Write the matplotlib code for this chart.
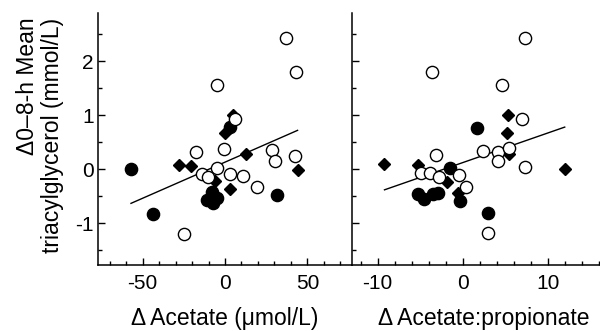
import numpy as np
import matplotlib.pyplot as plt
from matplotlib.ticker import MultipleLocator

plt.rcParams['font.family'] = ['Liberation Sans', 'DejaVu Sans']
plt.rcParams['axes.unicode_minus'] = False

# =========================
# Data
# =========================
# left panel: delta acetate (umol/L) vs delta mean TG (mmol/L)
ac_open_x = [37, 43, -4.6, 6.2, -17.6, -0.6, 28.6, 30.6, 42.4, -5, -14, -10.6, 3, 11, 19.6, -25]
ac_open_y = [2.42, 1.79, 1.55, 0.93, 0.32, 0.37, 0.35, 0.16, 0.25, 0.03, -0.08, -0.15, -0.08, -0.12, -0.32, -1.19]
ac_fill_x = [-57, -43.4, 31.6, 3, -11, -8, -5, -7]
ac_fill_y = [0.0, -0.83, -0.47, 0.79, -0.57, -0.42, -0.53, -0.62]
ac_dia_x = [-28, -20.4, 13, 44.4, -6, 3, 5, 0]
ac_dia_y = [0.08, 0.06, 0.28, -0.02, -0.21, -0.37, 1.0, 0.68]
ac_fit_x = [-57, 44]
ac_fit_y = [-0.63, 0.72]

# right panel: delta acetate:propionate ratio
ap_open_x = [7.3, -3.6, 4.6, 7.0, -3.1, 2.4, 4.2, 4.1, 5.5, 7.3, -4.9, -3.8, -2.8, -0.4, 0.4, 3.0]
ap_open_y = [2.42, 1.79, 1.55, 0.93, 0.26, 0.34, 0.32, 0.15, 0.39, 0.04, -0.07, -0.07, -0.15, -0.1, -0.32, -1.18]
ap_fill_x = [1.65, -1.45, -0.3, 3.0, -5.3, -4.5, -3.5, -2.9]
ap_fill_y = [0.76, 0.02, -0.59, -0.8, -0.46, -0.55, -0.46, -0.43]
ap_dia_x = [-9.2, -5.3, -1.85, 5.3, 5.2, 5.5, 12, -0.6]
ap_dia_y = [0.09, 0.08, -0.23, 1.0, 0.68, 0.28, 0.0, -0.43]
ap_fit_x = [-9.2, 12]
ap_fit_y = [-0.38, 0.78]

# =========================
# Figure
# =========================
fig = plt.figure(figsize=(6, 3.31), dpi=100)
ax1 = fig.add_axes([98 / 600, 66 / 331, 254 / 600, 252 / 331])
ax2 = fig.add_axes([352 / 600, 66 / 331, 248 / 600, 252 / 331])


def draw(ax, ox, oy, fx, fy, dx, dy, lx, ly):
    ax.plot(lx, ly, color='black', lw=1.0, zorder=1)
    ax.plot(dx, dy, 'D', ms=5.8, color='black', zorder=2)
    ax.plot(fx, fy, 'o', ms=8.8, color='black', zorder=3)
    ax.plot(ox, oy, 'o', ms=8.8, mfc='white', mec='black', mew=1.0, zorder=4)
    for s in ['top', 'right']:
        ax.spines[s].set_visible(False)
    for s in ['left', 'bottom']:
        ax.spines[s].set_linewidth(1.1)
    ax.set_ylim(-1.77, 2.89)
    ax.yaxis.set_major_locator(MultipleLocator(1))
    ax.yaxis.set_minor_locator(MultipleLocator(0.5))
    ax.tick_params(which='both', direction='in', width=1.0, labelsize=15, pad=3)
    ax.tick_params(axis='x', which='both', pad=6.5)
    ax.tick_params(which='major', length=5)
    ax.tick_params(which='minor', length=3)


draw(ax1, ac_open_x, ac_open_y, ac_fill_x, ac_fill_y, ac_dia_x, ac_dia_y, ac_fit_x, ac_fit_y)
ax1.set_xlim(-77, 77)
ax1.xaxis.set_major_locator(MultipleLocator(50))
ax1.xaxis.set_minor_locator(MultipleLocator(10))
ax1.set_xlabel('Δ Acetate (μmol/L)', fontsize=16.5, va='center')
ax1.xaxis.set_label_coords(0.5, -53 / 252)

draw(ax2, ap_open_x, ap_open_y, ap_fill_x, ap_fill_y, ap_dia_x, ap_dia_y, ap_fit_x, ap_fit_y)
ax2.set_xlim(-13.02, 16.15)
ax2.xaxis.set_major_locator(MultipleLocator(10))
ax2.xaxis.set_minor_locator(MultipleLocator(2))
ax2.tick_params(axis='y', labelleft=False)
ax2.set_xlabel('Δ Acetate:propionate', fontsize=16.5, va='center')
ax2.xaxis.set_label_coords(0.53, -53 / 252)

fig.text(40 / 600, 1 - 135 / 331, 'Δ0–8-h Mean\ntriacylglycerol (mmol/L)',
         rotation=90, ha='center', va='center', multialignment='right', fontsize=16.5,
         linespacing=1.1)

fig.savefig('out.png', dpi=100)
